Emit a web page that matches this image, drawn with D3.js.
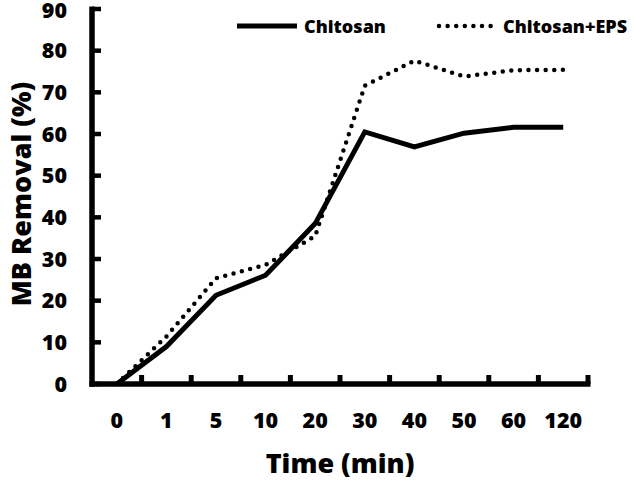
<!DOCTYPE html>
<html><head><meta charset="utf-8">
<script src="https://cdn.jsdelivr.net/npm/d3@7"></script>
<style>
html,body{margin:0;padding:0;background:#fff;}
svg{display:block;}
text{font-family:"Open Sans",Lato,sans-serif;font-weight:800;fill:#000;}
</style></head>
<body>
<svg id="chart" width="634" height="480"></svg>
<script>
const categories = ["0","1","5","10","20","30","40","50","60","120"];
const chitosan = [0, 9, 21.3, 26.1, 38.5, 60.5, 56.9, 60.2, 61.6, 61.6];
const chitosanEPS = [0, 11.4, 25.4, 28.6, 35.5, 71.6, 77.6, 73.8, 75.3, 75.4];
const yTicks = [0,10,20,30,40,50,60,70,80,90];
const seriesNames = ["Chitosan","Chitosan+EPS"];

const svg = d3.select("#chart");
const x = d3.scaleBand().domain(categories).range([92, 588]).padding(0);
const y = d3.scaleLinear().domain([0, 90]).range([384, 9]);

// y axis line
svg.append("line").attr("x1", 92).attr("x2", 92).attr("y1", y(90) - 2.5).attr("y2", y(0) + 2.8)
  .attr("stroke", "#000").attr("stroke-width", 5.5);
// y ticks (inward)
svg.selectAll(".yt").data(yTicks).enter().append("line")
  .attr("x1", 92).attr("x2", 101).attr("y1", d => y(d)).attr("y2", d => y(d))
  .attr("stroke", "#000").attr("stroke-width", 4.5);
svg.selectAll(".yl").data(yTicks).enter().append("text")
  .attr("x", 67).attr("y", d => Math.max(y(d), 10)).attr("dy", "0.36em").attr("text-anchor", "end")
  .attr("font-size", 21.5).text(d => d);

// x axis line
svg.append("line").attr("x1", 89.5).attr("x2", x.range()[1] + 2.5).attr("y1", y(0)).attr("y2", y(0))
  .attr("stroke", "#000").attr("stroke-width", 5.5);
// x ticks at band boundaries (upward)
svg.selectAll(".xt").data(categories).enter().append("line")
  .attr("x1", d => x(d) + x.bandwidth()).attr("x2", d => x(d) + x.bandwidth())
  .attr("y1", y(0)).attr("y2", y(0) - 9)
  .attr("stroke", "#000").attr("stroke-width", 5);
svg.selectAll(".xl").data(categories).enter().append("text")
  .attr("x", d => x(d) + x.bandwidth() / 2).attr("y", 428).attr("text-anchor", "middle")
  .attr("font-size", 21.5).text(d => d);

// titles
svg.append("text").attr("x", 340).attr("y", 473).attr("text-anchor", "middle")
  .attr("font-size", 27).text("Time (min)");
svg.append("text").attr("transform", "translate(31,194) rotate(-90)").attr("text-anchor", "middle")
  .attr("font-size", 27).text("MB Removal (%)");

// lines
const line = d3.line().x((d, i) => x(categories[i]) + x.bandwidth() / 2).y(d => y(d));
svg.append("path").datum(chitosanEPS).attr("d", line).attr("fill", "none")
  .attr("stroke", "#000").attr("stroke-width", 4.5).attr("stroke-linecap", "round")
  .attr("stroke-dasharray", "0 8.6");
svg.append("path").datum(chitosan).attr("d", line).attr("fill", "none")
  .attr("stroke", "#000").attr("stroke-width", 5).attr("stroke-linejoin", "miter");

// legend
svg.append("line").attr("x1", 237).attr("x2", 297).attr("y1", 26).attr("y2", 26)
  .attr("stroke", "#000").attr("stroke-width", 5);
svg.append("text").attr("x", 304).attr("y", 33).attr("font-size", 18).text(seriesNames[0]);
svg.append("line").attr("x1", 439).attr("x2", 498).attr("y1", 26).attr("y2", 26)
  .attr("stroke", "#000").attr("stroke-width", 4.5).attr("stroke-linecap", "round")
  .attr("stroke-dasharray", "0 8.6");
svg.append("text").attr("x", 503).attr("y", 33).attr("font-size", 18).text(seriesNames[1]);
</script>
</body></html>
